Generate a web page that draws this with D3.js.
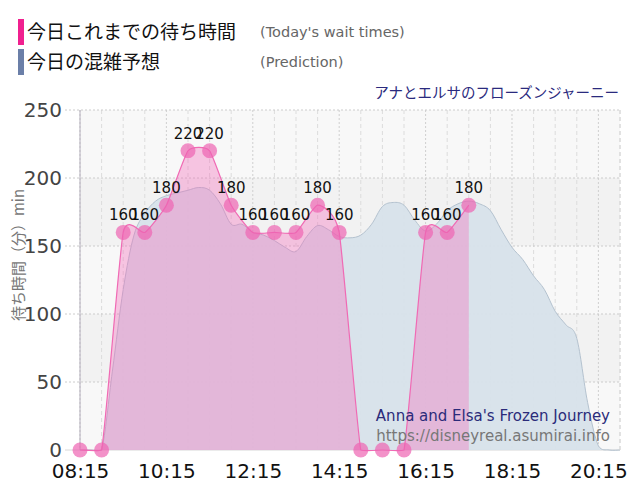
<!DOCTYPE html>
<html><head><meta charset="utf-8">
<script src="https://cdn.jsdelivr.net/npm/d3@7"></script>
<style>
html,body{margin:0;padding:0;background:#fff;}
svg{display:block;font-family:"DejaVu Sans",sans-serif;}
</style></head>
<body><svg id="c" width="640" height="500"></svg>
<script>
// ---- data ----
const waitTimes = ["08:15","08:45","09:15","09:45","10:15","10:45","11:15","11:45","12:15","12:45","13:15","13:45","14:15","14:45","15:15","15:45","16:15","16:45","17:15"];
const waitValues = [0,0,160,160,180,220,220,180,160,160,160,180,160,0,0,0,160,160,180];

const predTimes = ["08:15","08:30","08:45","09:00","09:15","09:30","09:45","10:00","10:15","10:30","10:45","11:00","11:15","11:30","11:45","12:00","12:15","12:30","12:45","13:00","13:15","13:30","13:45","14:00","14:15","14:30","14:45","15:00","15:15","15:30","15:45","16:00","16:15","16:30","16:45","17:00","17:15","17:30","17:45","18:00","18:15","18:30","18:45","19:00","19:15","19:30","19:45","20:00","20:15","20:30","20:45"];
const predValues = [0,0,0,58,118,158,174,183,187,189,191,193,191,181,166,166,160,158,154,149,146,157,165,162,157,156,158,166,179,182,180,169,161,166,176,181,183,181,176,162,149,140,128,118,102,92,82,35,3,0,0];

const xTickLabels = ["08:15","10:15","12:15","14:15","16:15","18:15","20:15"];
const yTicks = [0,50,100,150,200,250];
const attractionName = "アナとエルサのフローズンジャーニー";
const legendItems = [
  {ja:"今日これまでの待ち時間", en:"(Today's wait times)", color:"#f0208f"},
  {ja:"今日の混雑予想", en:"(Prediction)", color:"#6b7fa8"}
];

// ---- setup ----
const toMin = s => { const [h,m] = s.split(":").map(Number); return h*60+m; };
const svg = d3.select("#c");
const L = 80, R = 620, T = 110, B = 450;
const x = d3.scaleLinear().domain([toMin("08:15"), toMin("20:45")]).range([L, R]);
const y = d3.scaleLinear().domain([0, 250]).range([B, T]);

// cardinal-style spline with control points capped to the plot area
function makeCurve(f) {
  function SplineCurve(context) { this._context = context; }
  SplineCurve.prototype = {
    areaStart() { this._line = 0; },
    areaEnd() { this._line = NaN; },
    lineStart() { this._pts = []; },
    point(px, py) { this._pts.push([+px, +py]); },
    lineEnd() {
      const p = this._pts, n = p.length, ctx = this._context;
      if (n) {
        const clampY = v => Math.max(T, Math.min(B + 1.5, v));
        const cps = p.map((pt, i) => {
          const p0 = p[Math.max(0, i - 1)], p2 = p[Math.min(n - 1, i + 1)];
          const dx = p2[0] - p0[0], dy = p2[1] - p0[1];
          return {
            prev: [pt[0] - f * dx, clampY(pt[1] - f * dy)],
            next: [pt[0] + f * dx, clampY(pt[1] + f * dy)]
          };
        });
        if (this._line) ctx.lineTo(p[0][0], p[0][1]); else ctx.moveTo(p[0][0], p[0][1]);
        for (let i = 1; i < n; i++) {
          ctx.bezierCurveTo(cps[i-1].next[0], cps[i-1].next[1], cps[i].prev[0], cps[i].prev[1], p[i][0], p[i][1]);
        }
      }
      if (this._line || (this._line !== 0 && n === 1)) ctx.closePath();
      this._line = 1 - this._line;
    }
  };
  return ctx => new SplineCurve(ctx);
}
const waitCurve = makeCurve(0.085);
const predCurve = makeCurve(0.17);

svg.append("rect").attr("width",640).attr("height",500).attr("fill","#fff");

// bands
for (let i = 0; i < 5; i++) {
  svg.append("rect").attr("x", L).attr("width", R - L)
    .attr("y", y(50*i+50)).attr("height", y(50*i) - y(50*i+50))
    .attr("fill", i % 2 === 0 ? "#f8f8f8" : "#f2f2f2");
}

// vertical grid
const majors = new Set(xTickLabels.map(toMin));
for (let m = toMin("08:15"); m <= toMin("20:45"); m += 30) {
  const major = majors.has(m);
  svg.append("line").attr("x1", x(m)).attr("x2", x(m)).attr("y1", T).attr("y2", B)
    .attr("stroke", major ? "#cfcfcf" : "#dcdcdc")
    .attr("stroke-dasharray", major ? "2,2" : "4,3");
}
// horizontal grid
yTicks.forEach(v => {
  svg.append("line").attr("x1", 65).attr("x2", R).attr("y1", y(v)).attr("y2", y(v))
    .attr("stroke", v === 0 ? "#d8d8d8" : "#cccccc")
    .attr("stroke-dasharray", v === 0 ? null : "2,2");
});

// prediction area
const predData = predTimes.map((t,i) => ({m: toMin(t), v: predValues[i]}));
svg.append("path").datum(predData)
  .attr("d", d3.area().x(d => x(d.m)).y0(y(0)).y1(d => y(d.v)).curve(predCurve))
  .attr("fill", "#d7e2ea").attr("fill-opacity", 0.95);
svg.append("path").datum(predData)
  .attr("d", d3.line().x(d => x(d.m)).y(d => y(d.v)).curve(predCurve))
  .attr("fill", "none").attr("stroke", "#b4c2cf").attr("stroke-width", 1);

// wait area
const waitData = waitTimes.map((t,i) => ({m: toMin(t), v: waitValues[i]}));
svg.append("path").datum(waitData)
  .attr("d", d3.area().x(d => x(d.m)).y0(y(0)).y1(d => y(d.v)).curve(waitCurve))
  .attr("fill", "rgb(245,105,185)").attr("fill-opacity", 0.36);
svg.append("path").datum(waitData)
  .attr("d", d3.line().x(d => x(d.m)).y(d => y(d.v)).curve(waitCurve))
  .attr("fill", "none").attr("stroke", "#f06ab4").attr("stroke-width", 1.2);

// left axis line
svg.append("line").attr("x1", L).attr("x2", L).attr("y1", T).attr("y2", B)
  .attr("stroke", "#b3aebb").attr("stroke-width", 1);
// right edge
svg.append("line").attr("x1", R).attr("x2", R).attr("y1", T).attr("y2", B)
  .attr("stroke", "#d8d8d8").attr("stroke-dasharray", "4,3");

// dots
svg.append("g").selectAll("circle").data(waitData).join("circle")
  .attr("cx", d => x(d.m)).attr("cy", d => y(d.v)).attr("r", 7.5)
  .attr("fill", "rgb(238,100,178)").attr("fill-opacity", 0.7);

// labels
svg.append("g").selectAll("text").data(waitData.filter(d => d.v > 0)).join("text")
  .attr("x", d => x(d.m)).attr("y", d => y(d.v) - 12)
  .attr("text-anchor", "middle").attr("font-size", 15).attr("fill", "#111")
  .text(d => d.v);

// y axis
const yAxis = svg.append("g").attr("transform", `translate(${L},0)`)
  .call(d3.axisLeft(y).tickValues(yTicks).tickSize(0).tickPadding(18));
yAxis.select(".domain").remove();
yAxis.selectAll("text").attr("font-size", 20).attr("fill", "#444")
  .attr("font-family", "DejaVu Sans");

// x axis
const xAxis = svg.append("g").attr("transform", `translate(0,${B})`)
  .call(d3.axisBottom(x).tickValues(xTickLabels.map(toMin))
    .tickFormat((d,i) => xTickLabels[i]).tickSize(0).tickPadding(14));
xAxis.select(".domain").remove();
xAxis.selectAll("text").attr("font-size", 20).attr("fill", "#111")
  .attr("font-family", "DejaVu Sans");

// y title
svg.append("text").attr("transform", "translate(24,255) rotate(-90)")
  .attr("text-anchor", "middle").attr("font-size", 15).attr("fill", "#777")
  .attr("font-family", "'Noto Sans CJK JP', 'DejaVu Sans', sans-serif")
  .text("待ち時間（分）min");

// legend
legendItems.forEach((it, i) => {
  const cy = 32 + i * 30;
  svg.append("rect").attr("x", 18).attr("y", cy - 13).attr("width", 6).attr("height", 26)
    .attr("fill", it.color);
  svg.append("text").attr("x", 27).attr("y", cy + 7).attr("font-size", 19)
    .attr("font-family", "'Noto Sans CJK JP', sans-serif").attr("fill", "#111").text(it.ja);
  svg.append("text").attr("x", 260).attr("y", cy + 5).attr("font-size", 14.5)
    .attr("font-family", "'DejaVu Sans', sans-serif").attr("fill", "#666").text(it.en);
});

// attraction name
svg.append("text").attr("x", 619).attr("y", 98).attr("text-anchor", "end")
  .attr("font-size", 14.5).attr("fill", "#2a2a7e")
  .attr("font-family", "'Noto Sans CJK JP', sans-serif").text(attractionName);

// watermark
svg.append("text").attr("x", 610).attr("y", 421).attr("text-anchor", "end")
  .attr("font-size", 15).attr("fill", "#2b2b7a").text("Anna and Elsa's Frozen Journey");
svg.append("text").attr("x", 610).attr("y", 441).attr("text-anchor", "end")
  .attr("font-size", 15).attr("fill", "#777").text("https://disneyreal.asumirai.info");
</script></body></html>
